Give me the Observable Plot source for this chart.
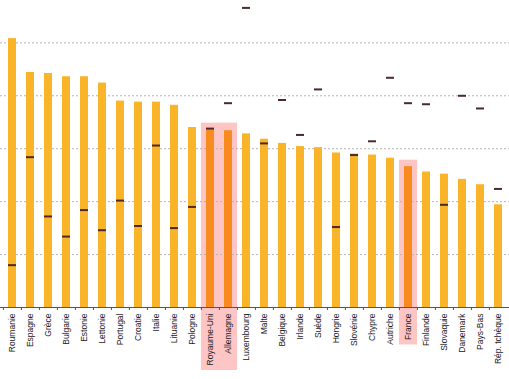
<!DOCTYPE html>
<html>
<head>
<meta charset="utf-8">
<script src="https://cdn.jsdelivr.net/npm/d3@7"></script>
<script src="https://cdn.jsdelivr.net/npm/@observablehq/plot@0.6"></script>
<style>
  html, body { margin: 0; padding: 0; background: #fff; }
  #chart { width: 509px; height: 379px; overflow: hidden; }
</style>
</head>
<body>
<div id="chart"></div>
<script>
const countries = ["Roumanie","Espagne","Grèce","Bulgarie","Estonie","Lettonie","Portugal","Croatie","Italie","Lituanie","Pologne","Royaume-Uni","Allemagne","Luxembourg","Malte","Belgique","Irlande","Suède","Hongrie","Slovénie","Chypre","Autriche","France","Finlande","Slovaquie","Danemark","Pays-Bas","Rép. tchèque"];
const rates = [25.4,22.2,22.1,21.8,21.8,21.2,19.5,19.4,19.4,19.1,17.0,16.8,16.7,16.4,15.9,15.5,15.2,15.1,14.6,14.5,14.4,14.1,13.3,12.8,12.6,12.1,11.6,9.7];
const markers = [4.0,14.2,8.6,6.7,9.2,7.3,10.1,7.7,15.3,7.5,9.5,16.9,19.3,28.3,15.5,19.6,16.3,20.6,7.6,14.4,15.7,21.7,19.3,19.2,9.7,20.0,18.8,11.2];
const highlightGroups = [["Royaume-Uni","Allemagne"],["France"]];
const gridTicks = [5,10,15,20,25];

const W = 509, H = 379, mB = 72;
const rows = countries.map((c,i) => ({country: c, rate: rates[i], marker: markers[i]}));
const highlighted = new Set(highlightGroups.flat());

const padding = 0.56;
const step = W / countries.length;
const gap = step * padding;
const fontSize = 8.5;
const fontFamily = "Arial, 'Liberation Sans', Helvetica, sans-serif";
const ctx = document.createElement("canvas").getContext("2d");
ctx.font = `${fontSize}px ${fontFamily}`;
const labelPad = 6;

const highlightMarks = highlightGroups.map(g => {
  const top = d3.max(g, c => rates[countries.indexOf(c)]);
  const longest = d3.max(g, c => ctx.measureText(c).width);
  return Plot.barY(rows.filter(d => g.includes(d.country)), {
    x: "country", y1: 0, y2: () => top,
    fill: "#FDC6C4",
    insetLeft: -gap/2, insetRight: -gap/2,
    insetTop: -6.5, insetBottom: -(labelPad + longest + 5)
  });
});

const chart = Plot.plot({
  width: W, height: H,
  marginLeft: 0, marginRight: 0, marginTop: 0, marginBottom: mB,
  style: {fontFamily, background: "#fff"},
  x: {domain: countries, paddingInner: padding, paddingOuter: padding / 2, align: 0.5, label: null},
  y: {domain: [0, 29], axis: null},
  marks: [
    ...highlightMarks,
    Plot.gridY(gridTicks, {stroke: "#b5b5b5", strokeOpacity: 1, strokeDasharray: "2,2"}),
    Plot.barY(rows.filter(d => !highlighted.has(d.country)), {x: "country", y1: 0, y2: "rate", fill: "#F9B42A"}),
    Plot.barY(rows.filter(d => highlighted.has(d.country)), {x: "country", y1: 0, y2: "rate", fill: "#F88A1E"}),
    Plot.tickY(rows, {x: "country", y: "marker", stroke: "#4a2a2a", strokeWidth: 2}),
    Plot.ruleY([0], {stroke: "#555", strokeWidth: 1}),
    Plot.axisX({tickSize: 3, tickFormat: () => "", dx: -step/2, stroke: "#555"}),
    Plot.axisX({tickSize: 0, tickPadding: labelPad, tickRotate: -90, fontSize, fill: "#222", label: null})
  ]
});
document.getElementById("chart").appendChild(chart);
</script>
</body>
</html>
